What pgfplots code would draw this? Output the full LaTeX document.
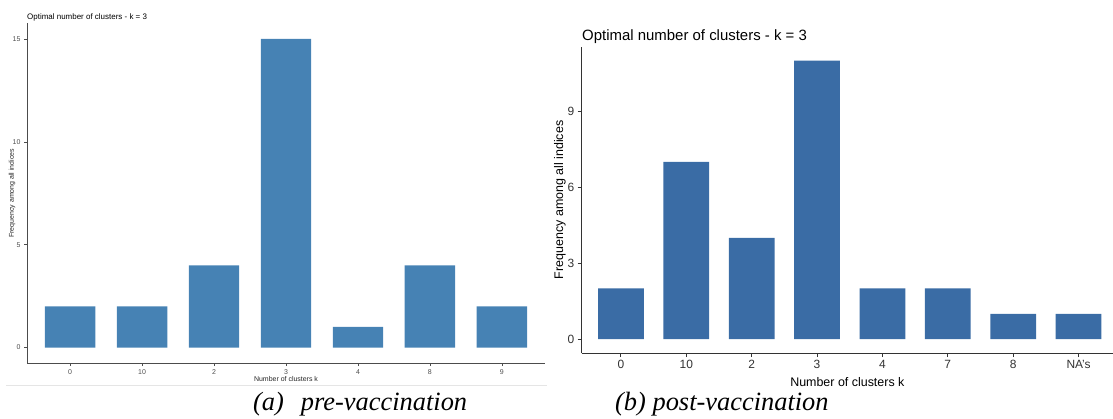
\documentclass[border=0pt]{standalone}
\usepackage{fontspec}
\setmainfont{Liberation Sans}
\newfontfamily\capfont{Liberation Serif}
\usepackage{pgfplots}
\pgfplotsset{compat=1.18}
\definecolor{barA}{RGB}{70,130,180}
\definecolor{barB}{RGB}{58,108,165}
\definecolor{tickgray}{RGB}{77,77,77}

\begin{document}
\begin{tikzpicture}[x=1bp,y=1bp]
\useasboundingbox (0,0) rectangle (1113,418);
\draw[black!10, line width=0.8bp] (6,33) -- (547,33);

% ---------- left panel ----------
\begin{axis}[
  at={(27bp,55bp)}, anchor=south west, scale only axis,
  width=518bp, height=339.5bp,
  xmin=-0.6, xmax=6.6, ymin=-0.75, ymax=15.75,
  axis lines*=left,
  axis line style={-, black!70, line width=0.7bp},
  xtick={0,...,6}, xticklabels={0,10,2,3,4,8,9},
  ytick={0,5,10,15},
  tick align=outside, major tick length=3bp,
  tick style={black!70, line width=0.6bp},
  tick label style={font=\fontsize{7}{8}\selectfont, text=tickgray},
  /pgf/number format/assume math mode=true,
  xlabel={Number of clusters k},
  ylabel={Frequency among all indices},
  label style={font=\fontsize{7}{8}\selectfont, text=black!85},
  xlabel style={at={(axis description cs:0.5,-0.047)}, anchor=center},
  ylabel style={at={(axis description cs:-0.029,0.5)}, anchor=center},
  clip=false,
]
\addplot[ybar, bar width=0.7, fill=barA, draw=none]
  coordinates {(0,2) (1,2) (2,4) (3,15) (4,1) (5,4) (6,2)};
\end{axis}
\node[anchor=base west, inner sep=0, font=\fontsize{8}{9}\selectfont] at (27,398.5)
  {Optimal number of clusters - k = 3};

% ---------- right panel ----------
\begin{axis}[
  at={(581.7bp,65bp)}, anchor=south west, scale only axis,
  width=531.3bp, height=306.3bp,
  xmin=-0.6, xmax=7.527, ymin=-0.55, ymax=11.55,
  axis lines*=left,
  axis line style={-, black!80, line width=1bp},
  xtick={0,...,7}, xticklabels={0,10,2,3,4,7,8,NA's},
  ytick={0,3,6,9},
  tick align=outside, major tick length=4bp,
  tick style={black!80, line width=0.9bp},
  tick label style={font=\fontsize{12}{14}\selectfont, text=black!80},
  /pgf/number format/assume math mode=true,
  xlabel={Number of clusters k},
  ylabel={Frequency among all indices},
  label style={font=\fontsize{12.5}{14}\selectfont},
  xlabel style={at={(axis description cs:0.5,-0.095)}, anchor=center},
  ylabel style={at={(axis description cs:-0.041,0.5)}, anchor=center},
]
\addplot[ybar, bar width=0.7, fill=barB, draw=none]
  coordinates {(0,2) (1,7) (2,4) (3,11) (4,2) (5,2) (6,1) (7,1)};
\end{axis}
\node[anchor=base west, inner sep=0, font=\fontsize{15}{17}\selectfont] at (582,378)
  {Optimal number of clusters - k = 3};

% ---------- captions ----------
\node[anchor=base west, inner sep=0, font=\capfont\itshape\fontsize{26.5}{28}\selectfont] at (253,8)
  {(a)\hspace{17bp}pre-vaccination};
\node[anchor=base west, inner sep=0, font=\capfont\itshape\fontsize{26.5}{28}\selectfont] at (615,8)
  {(b) post-vaccination};
\end{tikzpicture}
\end{document}
